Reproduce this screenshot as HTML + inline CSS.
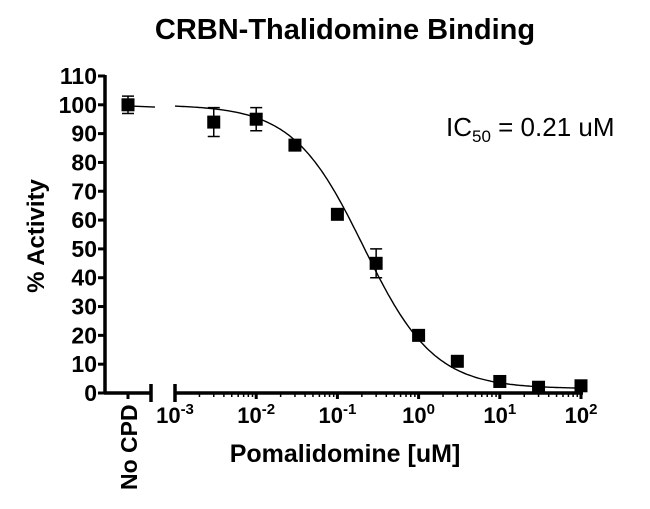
<!DOCTYPE html>
<html><head><meta charset="utf-8"><style>
body{margin:0;background:#fff;}
svg text{font-family:"Liberation Sans",Arial,sans-serif;}
</style></head><body>
<svg id="chart" width="650" height="504" viewBox="0 0 650 504" xmlns="http://www.w3.org/2000/svg">
<text x="345" y="39" text-anchor="middle" font-size="29" font-weight="bold">CRBN-Thalidomine Binding</text>
<text transform="translate(44,236) rotate(-90)" text-anchor="middle" font-size="24" font-weight="bold">% Activity</text>
<text x="345" y="462" text-anchor="middle" font-size="25" font-weight="bold">Pomalidomine [uM]</text>
<text x="446" y="136" font-size="26">IC<tspan font-size="17" dy="6">50</tspan><tspan dy="-6"> = 0.21 uM</tspan></text>
<g id="axes"></g><g id="marks"></g>
</svg>
<script>
const concentrations=[0.003,0.01,0.03,0.1,0.3,1,3,10,30,100];
const activity=[94,95,86,62,45,20,11,4,2,2.5];
const errors=[5,4,1,1,5,1,0,0,0,0];
const noCpdValue=100, noCpdError=3;
const yTicks=[0,10,20,30,40,50,60,70,80,90,100,110];
const xDecades=[-3,-2,-1,0,1,2];
const fitTop=100, fitBottom=1.5, fitIC50=0.21, fitHill=1;
const NS="http://www.w3.org/2000/svg";
const y=v=>393-v*2.882;
const x=c=>175+(Math.log10(c)+3)*81.2;
const ax=document.getElementById('axes'), mk=document.getElementById('marks');
function el(t,a,p){const e=document.createElementNS(NS,t);for(const k in a)e.setAttribute(k,a[k]);p.appendChild(e);return e;}
let yl=el('line',{x1:105,y1:y(110)-1,x2:105,y2:394.5,stroke:'#000','stroke-width':3.5},ax);


yTicks.forEach(v=>{
 el('line',{x1:98,x2:105,y1:y(v),y2:y(v),stroke:'#000','stroke-width':3},ax);
 const t=el('text',{x:97,y:y(v)+8,'text-anchor':'end','font-size':23,'font-weight':'bold'},ax);t.textContent=v;
 
 
});
let s1=el('path',{d:`M104 ${y(0)} H151 M151 ${y(0)-9} V${y(0)+9}`,stroke:'#000','stroke-width':3.5,fill:'none'},ax);


let s2=el('path',{d:`M175 ${y(0)-9} V${y(0)+9} M175 ${y(0)} H${x(100)+2}`,stroke:'#000','stroke-width':3.5,fill:'none'},ax);


el('line',{x1:128,x2:128,y1:y(0),y2:y(0)+6,stroke:'#000','stroke-width':3},ax);
xDecades.forEach((d,i)=>{
 const px=x(Math.pow(10,d));
 el('line',{x1:px,x2:px,y1:y(0),y2:y(0)+6,stroke:'#000','stroke-width':3},ax);
 if(i<xDecades.length-1)for(let m=2;m<10;m++){const mx=x(m*Math.pow(10,d));el('line',{x1:mx,x2:mx,y1:y(0),y2:y(0)+4,stroke:'#000','stroke-width':1.5},ax);}
 const t=el('text',{x:px,y:423,'text-anchor':'middle','font-size':22,'font-weight':'bold'},ax);
 t.innerHTML='10<tspan font-size="15" dy="-9">'+d+'</tspan>';
 
 
});
const nc=el('text',{transform:'translate(137,490) rotate(-90)','font-size':23,'font-weight':'bold'},ax);nc.textContent='No CPD';


const f=c=>fitBottom+(fitTop-fitBottom)/(1+Math.pow(c/fitIC50,fitHill));
let d='';for(let i=0;i<=200;i++){const lc=-3+5*i/200;const c=Math.pow(10,lc);d+=(i?'L':'M')+x(c).toFixed(1)+' '+y(f(c)).toFixed(1);}
let cv=el('path',{d:d,stroke:'#000','stroke-width':1.4,fill:'none'},mk);


let cv2=el('path',{d:`M128 ${y(99.6)} L155 ${y(99.2)}`,stroke:'#000','stroke-width':1.4,fill:'none'},mk);


function point(px,v,e,name){
 if(e>0){el('path',{d:`M${px} ${y(v+e)} V${y(v-e)} M${px-6} ${y(v+e)} H${px+6} M${px-6} ${y(v-e)} H${px+6}`,stroke:'#000','stroke-width':1.5,fill:'none'},mk);}
 const r=el('rect',{x:px-6.5,y:y(v)-6.5,width:13,height:13,fill:'#000'},mk);
 
 
}
point(128,noCpdValue,noCpdError,'no-cpd-point');
concentrations.forEach((c,i)=>point(x(c),activity[i],errors[i],'data-point'));
</script>
</body></html>
